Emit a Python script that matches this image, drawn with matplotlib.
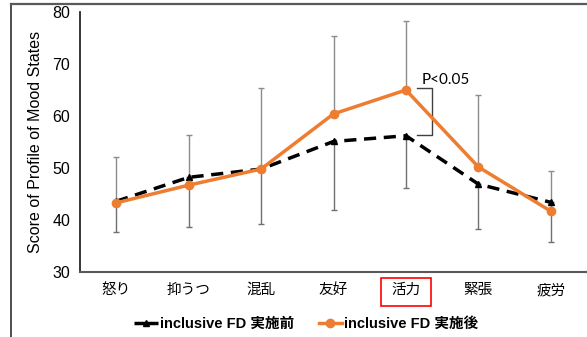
import matplotlib.pyplot as plt
from matplotlib.lines import Line2D
from matplotlib.patches import Rectangle
import matplotlib.transforms as mtransforms

plt.rcParams['font.family'] = ['Liberation Sans', 'Noto Sans CJK JP', 'DejaVu Sans']

# POMS scores
categories = ['怒り', '抑うつ', '混乱', '友好', '活力', '緊張', '疲労']
before = [43.6, 48.2, 49.8, 55.1, 56.2, 46.9, 43.4]   # inclusive FD 実施前
after = [43.3, 46.7, 49.8, 60.4, 65.0, 50.2, 41.7]    # inclusive FD 実施後
err_up = [8.9, 9.6, 15.5, 14.9, 13.3, 13.9, 7.8]      # upper bar (after)
err_down = [6.0, 9.6, 10.6, 13.2, 10.1, 8.6, 7.6]     # lower bar (before)
yticks = [30, 40, 50, 60, 70, 80]

fig = plt.figure(figsize=(5.87, 3.37), dpi=100)
ax = fig.add_axes([80/587, 1-272/337, 1-80/587, 260/337])

x = list(range(len(categories)))

ax.errorbar(x, after, yerr=[[0]*len(x), err_up], fmt='none', ecolor='#8c8c8c',
            elinewidth=1, capsize=2.5, capthick=1, zorder=1)
ax.errorbar(x, before, yerr=[err_down, [0]*len(x)], fmt='none', ecolor='#707070',
            elinewidth=1, capsize=2.5, capthick=1, zorder=1)

ax.plot(x, before, color='black', lw=2.5, dashes=(3.5, 2.2), marker='^', ms=5,
        label='inclusive FD 実施前', zorder=3)
ax.plot(x, after, color='#ED7D31', lw=2.5, marker='o', ms=6,
        label='inclusive FD 実施後', zorder=4)

ax.set_xlim(-0.5, 6.5)
ax.set_ylim(30, 80)
ax.set_yticks(yticks)
ax.set_xticks(x)
ax.set_xticklabels(categories, fontsize=10.5, family=['Noto Sans CJK JP', 'DejaVu Sans'])
ax.tick_params(axis='y', length=0, labelsize=11.5, pad=7)
ax.tick_params(axis='x', length=0, pad=8)
ax.set_ylabel('Score of Profile of Mood States', fontsize=11.5, labelpad=7)

for s in ['top', 'right']:
    ax.spines[s].set_visible(False)
ax.spines['left'].set_color('#262626')
ax.spines['left'].set_linewidth(1.3)
ax.spines['bottom'].set_color('#595959')
ax.spines['bottom'].set_linewidth(1.5)

# significance bracket
ax.plot([4.15, 4.36, 4.36, 4.15], [65.3, 65.3, 56.3, 56.3], color='#404040', lw=1, zorder=2)
ax.text(4.22, 65.5, 'P<0.05', fontsize=11, family=['Lato', 'DejaVu Sans'], va='bottom', ha='left')

# red box around 活力
trans = mtransforms.blended_transform_factory(ax.transData, ax.transAxes)
ax.add_patch(Rectangle((4-0.35, -0.131), 0.70, 0.108, transform=trans, clip_on=False,
                       fill=False, edgecolor='#ff0000', lw=1.2))

leg = ax.legend(loc='center', bbox_to_anchor=(0.522, 0.039), bbox_transform=fig.transFigure,
                ncol=2, frameon=False, handlelength=1.6, handletextpad=0.15, columnspacing=1.7,
                prop={'weight': 'bold', 'size': 10.5, 'family': ['Liberation Sans', 'Noto Sans CJK JP']})
leg.get_lines()[0].set_dashes((2, 0.01))

# outer frame (cropped)
fig.add_artist(Line2D([11/587, 11/587], [0, 1-4/337], color='#404040', lw=1.3))
fig.add_artist(Line2D([11/587, 1], [1-4/337, 1-4/337], color='#595959', lw=1.6))

fig.savefig('out.png', dpi=100)
